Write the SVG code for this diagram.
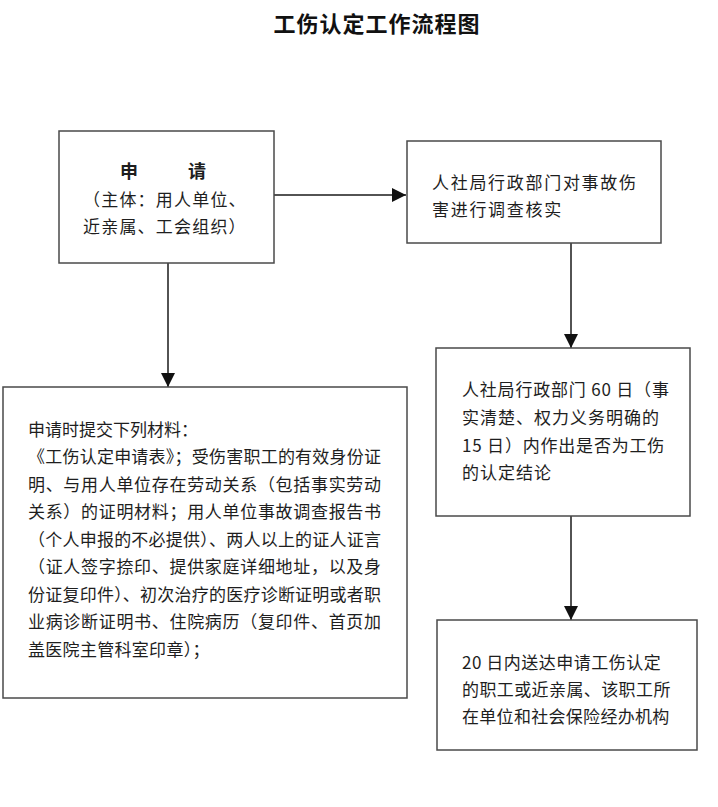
<svg xmlns="http://www.w3.org/2000/svg" width="718" height="807" viewBox="0 0 718 807">
<defs>
<style>
.box{fill:#fff;stroke:#4a4a4a;stroke-width:1.5}
.t{font-family:"Noto Sans CJK SC","Noto Sans",sans-serif;font-size:17px;fill:#1e1e1e}
.title{font-family:"Noto Sans CJK SC","Noto Sans",sans-serif;font-size:22px;font-weight:bold;fill:#111}
.b{font-weight:bold;font-size:18px}
.conn{stroke:#1a1a1a;stroke-width:1.5;fill:none}
</style>
<marker id="arr" markerUnits="userSpaceOnUse" markerWidth="14" markerHeight="14" viewBox="0 0 14 14" refX="14" refY="7" orient="auto">
<path d="M0,0 L14,7 L0,14 Z" fill="#111"/>
</marker>
</defs>
<rect width="718" height="807" fill="#fff"/>
<text class="title" x="377" y="32" text-anchor="middle" letter-spacing="1">工伤认定工作流程图</text>

<g id="connectors">
<line class="conn" x1="274" y1="195" x2="406" y2="195" marker-end="url(#arr)"/>
<line class="conn" x1="168" y1="257" x2="168" y2="387" marker-end="url(#arr)"/>
<line class="conn" x1="571" y1="243" x2="571" y2="348" marker-end="url(#arr)"/>
<line class="conn" x1="571" y1="516" x2="571" y2="620" marker-end="url(#arr)"/>
</g>

<g id="apply">
<rect class="box" x="59" y="131" width="215" height="132"/>
<text class="t b" x="120" y="178">申</text>
<text class="t b" x="188" y="178">请</text>
<text class="t" x="83" y="206" letter-spacing="1.2">（主体：用人单位、</text>
<text class="t" x="83" y="233" letter-spacing="1.2">近亲属、工会组织）</text>
</g>

<g id="investigate">
<rect class="box" x="407" y="141" width="254" height="102"/>
<text class="t" x="432" y="189" letter-spacing="1.7">人社局行政部门对事故伤</text>
<text class="t" x="432" y="216" letter-spacing="1.7">害进行调查核实</text>
</g>

<g id="materials">
<rect class="box" x="3" y="387" width="404" height="311"/>
<text class="t" x="28" y="436">申请时提交下列材料：</text>
<text class="t" x="28" y="463" textLength="353" lengthAdjust="spacing">《工伤认定申请表》；受伤害职工的有效身份证</text>
<text class="t" x="28" y="491" textLength="353" lengthAdjust="spacing">明、与用人单位存在劳动关系（包括事实劳动</text>
<text class="t" x="28" y="518" textLength="353" lengthAdjust="spacing">关系）的证明材料；用人单位事故调查报告书</text>
<text class="t" x="28" y="546" textLength="353" lengthAdjust="spacing">（个人申报的不必提供）、两人以上的证人证言</text>
<text class="t" x="28" y="573" textLength="353" lengthAdjust="spacing">（证人签字捺印、提供家庭详细地址，以及身</text>
<text class="t" x="28" y="601" textLength="353" lengthAdjust="spacing">份证复印件）、初次治疗的医疗诊断证明或者职</text>
<text class="t" x="28" y="628" textLength="353" lengthAdjust="spacing">业病诊断证明书、住院病历（复印件、首页加</text>
<text class="t" x="28" y="656" letter-spacing="0.3">盖医院主管科室印章）；</text>
</g>

<g id="conclusion">
<rect class="box" x="436" y="348" width="254" height="168"/>
<text class="t" x="462" y="396" letter-spacing="0.8">人社局行政部门 60 日（事</text>
<text class="t" x="462" y="424" letter-spacing="1">实清楚、权力义务明确的</text>
<text class="t" x="462" y="452" letter-spacing="0.8">15 日）内作出是否为工伤</text>
<text class="t" x="462" y="479" letter-spacing="1">的认定结论</text>
</g>

<g id="deliver">
<rect class="box" x="437" y="620" width="260" height="130"/>
<text class="t" x="462" y="669" letter-spacing="0.5">20 日内送达申请工伤认定</text>
<text class="t" x="462" y="696" letter-spacing="0.4">的职工或近亲属、该职工所</text>
<text class="t" x="462" y="723" letter-spacing="0.3">在单位和社会保险经办机构</text>
</g>
</svg>
